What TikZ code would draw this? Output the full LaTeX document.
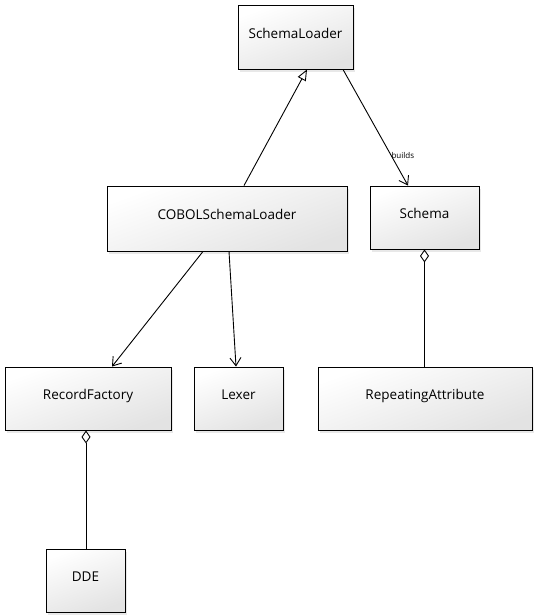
\documentclass[tikz,border=0pt]{standalone}
\usepackage{fontspec}
\setmainfont{Open Sans}
\usetikzlibrary{arrows.meta,shadows}
\begin{document}
\begin{tikzpicture}[x=1pt,y=-1pt,
  classbox/.style={draw=black, line width=0.9pt, top color=white, bottom color=gray!22,
    shading angle=20, drop shadow={shadow xshift=2pt, shadow yshift=-3pt, opacity=0.18},
    inner sep=0pt, text height=10pt, text depth=8pt, font=\fontsize{13.5}{15}\selectfont},
  conn/.style={draw=black, line width=0.9pt},
  assoc/.style={conn, -{Straight Barb[length=8pt,width=11pt,line width=0.9pt]}},
  gen/.style={conn, -{Triangle[open,length=11pt,width=9pt,line width=0.9pt,fill=white]}},
  aggr/.style={conn, {Diamond[open,length=13pt,width=9pt,line width=0.9pt,fill=white]}-},
  lbl/.style={font=\fontsize{8}{9}\selectfont, inner sep=1pt}
]
\useasboundingbox (0,0) rectangle (537,616);
\fill[white] (0,0) rectangle (537,616);

\node[classbox, minimum width=115pt, minimum height=64pt] (sl) at (295.5,37) {SchemaLoader};
\node[classbox, minimum width=240pt, minimum height=65pt] (cobol) at (227,218.5) {COBOLSchemaLoader};
\node[classbox, minimum width=109pt, minimum height=63pt] (schema) at (424.5,217.5) {Schema};
\node[classbox, minimum width=166pt, minimum height=63pt] (rf) at (88,398.5) {RecordFactory};
\node[classbox, minimum width=89pt, minimum height=63pt] (lexer) at (238.5,398.5) {Lexer};
\node[classbox, minimum width=214pt, minimum height=63pt] (ra) at (425,398.5) {RepeatingAttribute};
\node[classbox, minimum width=79pt, minimum height=63pt] (dde) at (85.5,580.5) {DDE};

\draw[gen] ([xshift=17pt]cobol.north) -- ([xshift=11.5pt]sl.south);
\draw[assoc] ([xshift=47.5pt]sl.south) -- node[lbl, pos=0.74, right=-1pt] (builds) {builds} ([xshift=-16.5pt]schema.north);
\draw[assoc] ([xshift=-24pt]cobol.south) -- ([xshift=24pt]rf.north);
\draw[assoc] ([xshift=2pt]cobol.south) -- ([xshift=-2.5pt]lexer.north);
\draw[aggr] (schema.south) -- (schema.south |- ra.north);
\draw[aggr] ([xshift=-2pt]rf.south) -- ([xshift=-2pt]rf.south |- dde.north);
\end{tikzpicture}
\end{document}
